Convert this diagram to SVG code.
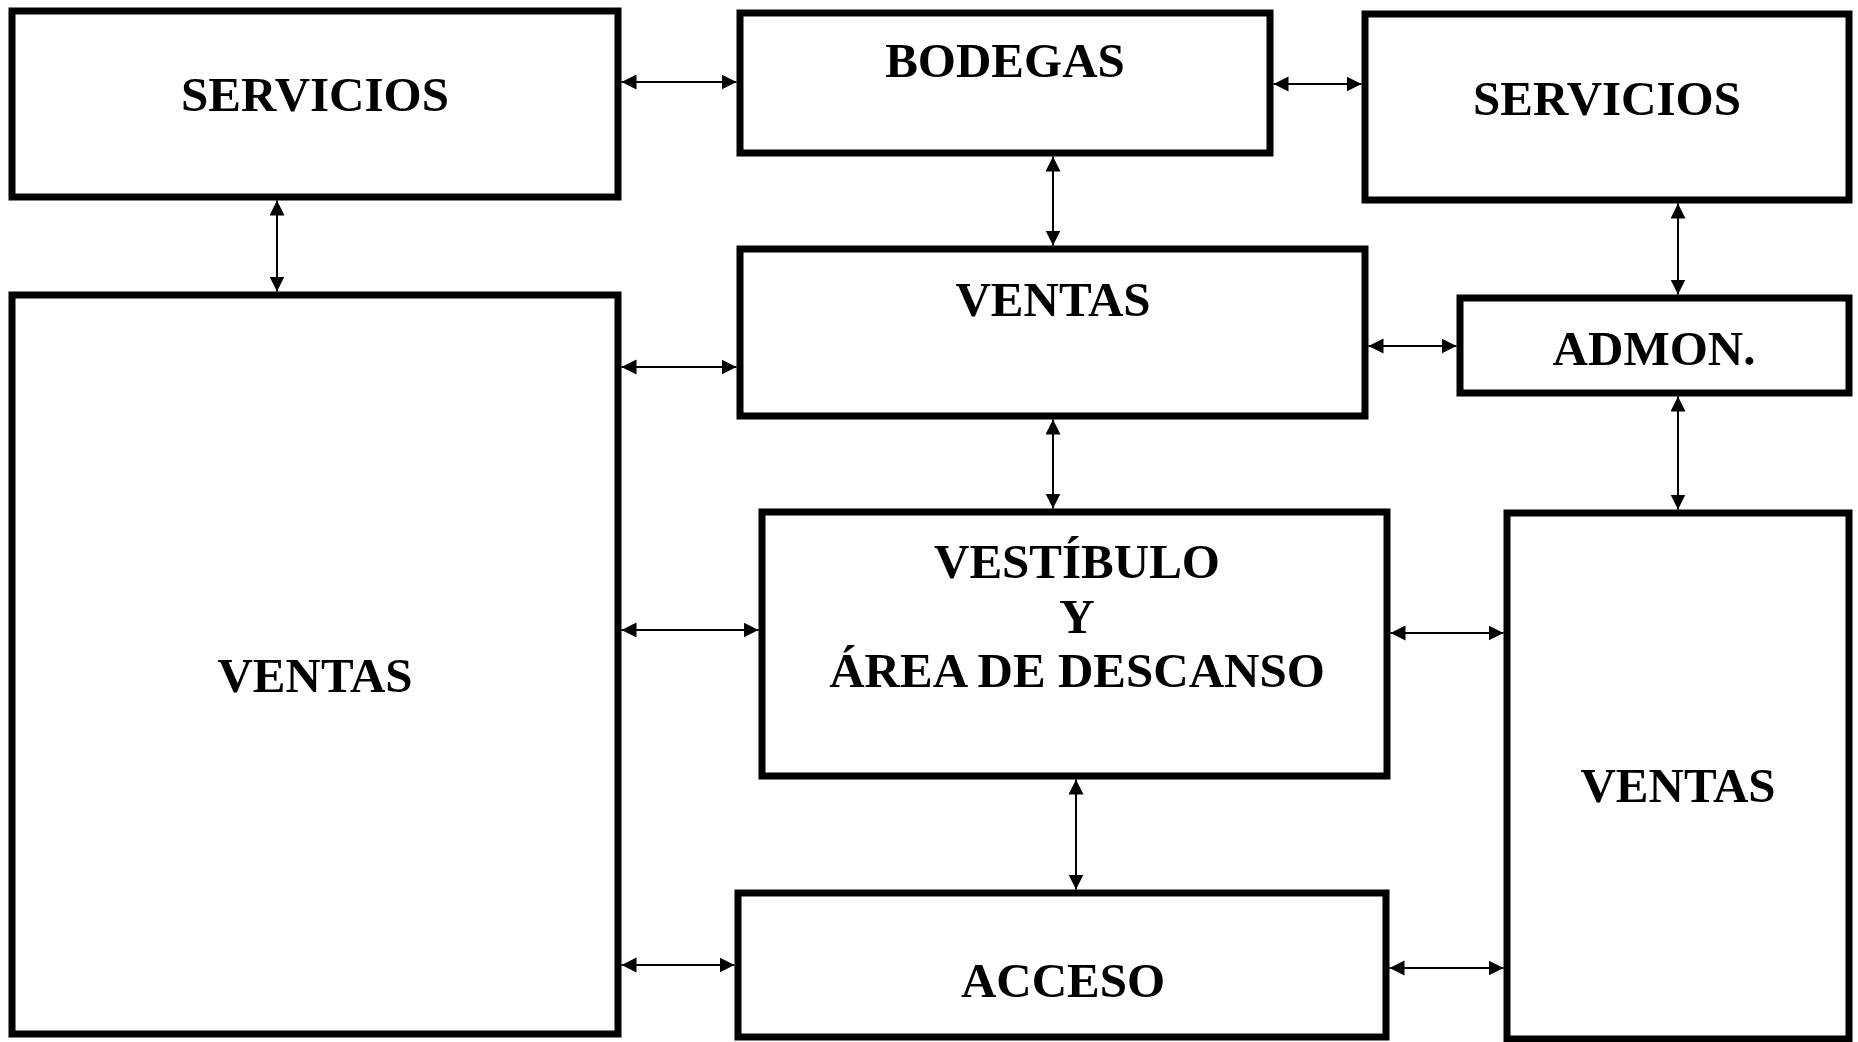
<svg xmlns="http://www.w3.org/2000/svg" width="1858" height="1042" viewBox="0 0 1858 1042">
<style>
.box{fill:#fff;stroke:#000;stroke-width:7}
.lbl{font-family:"Liberation Serif","Times New Roman",serif;font-weight:bold;font-size:49px;fill:#000;text-anchor:middle}
.con{stroke:#000;stroke-width:2;fill:none;marker-start:url(#ah);marker-end:url(#ah)}
</style>
<defs>
<marker id="ah" markerUnits="userSpaceOnUse" markerWidth="16" markerHeight="16" refX="15" refY="7.5" orient="auto-start-reverse" viewBox="0 0 16 16">
<path d="M0,0 L15,7.5 L0,15 Z" fill="#000"/>
</marker>
</defs>
<rect width="1858" height="1042" fill="#fff"/>
<g id="servicios-l"><rect class="box" x="12" y="11" width="606" height="186"/><text class="lbl" x="315" y="111">SERVICIOS</text></g>
<g id="bodegas"><rect class="box" x="740" y="13" width="530" height="140"/><text class="lbl" x="1005" y="77">BODEGAS</text></g>
<g id="servicios-r"><rect class="box" x="1365" y="14" width="484" height="186"/><text class="lbl" x="1607" y="115">SERVICIOS</text></g>
<g id="ventas-c"><rect class="box" x="740" y="249" width="625" height="167"/><text class="lbl" x="1053" y="316">VENTAS</text></g>
<g id="admon"><rect class="box" x="1460" y="298" width="389" height="95"/><text class="lbl" x="1654" y="365">ADMON.</text></g>
<g id="ventas-l"><rect class="box" x="12" y="295" width="606" height="739"/><text class="lbl" x="315" y="692">VENTAS</text></g>
<g id="vestibulo"><rect class="box" x="762" y="512" width="625" height="264"/><text class="lbl" x="1077" y="578">VESTÍBULO</text><text class="lbl" x="1077" y="633">Y</text><text class="lbl" x="1077" y="687">ÁREA DE DESCANSO</text></g>
<g id="ventas-r"><rect class="box" x="1507" y="513" width="342" height="526"/><text class="lbl" x="1678" y="802">VENTAS</text></g>
<g id="acceso"><rect class="box" x="738" y="893" width="648" height="144"/><text class="lbl" x="1063" y="997">ACCESO</text></g>
<g id="connectors">
<line class="con" x1="621.5" y1="82" x2="736.5" y2="82"/>
<line class="con" x1="1273.5" y1="84" x2="1361.5" y2="84"/>
<line class="con" x1="277" y1="200.5" x2="277" y2="291.5"/>
<line class="con" x1="1053" y1="156.5" x2="1053" y2="245.5"/>
<line class="con" x1="1678" y1="203.5" x2="1678" y2="294.5"/>
<line class="con" x1="621.5" y1="367" x2="736.5" y2="367"/>
<line class="con" x1="1368.5" y1="346" x2="1456.5" y2="346"/>
<line class="con" x1="1053" y1="419.5" x2="1053" y2="508.5"/>
<line class="con" x1="1678" y1="396.5" x2="1678" y2="509.5"/>
<line class="con" x1="621.5" y1="630" x2="758.5" y2="630"/>
<line class="con" x1="1390.5" y1="633" x2="1503.5" y2="633"/>
<line class="con" x1="1076" y1="779.5" x2="1076" y2="889.5"/>
<line class="con" x1="621.5" y1="965" x2="734.5" y2="965"/>
<line class="con" x1="1389.5" y1="968" x2="1503.5" y2="968"/>
</g>
</svg>
